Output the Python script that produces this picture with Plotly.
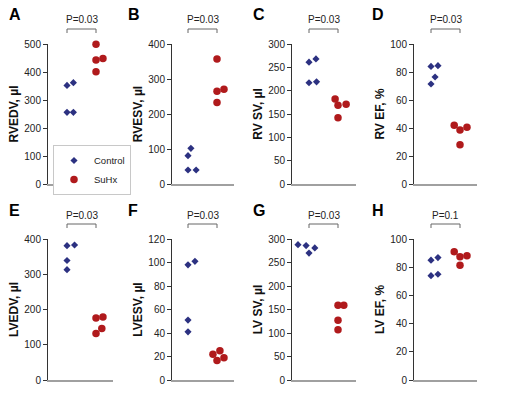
import plotly.graph_objects as go

# ---------------- data ----------------
panel_letters = ["A", "B", "C", "D", "E", "F", "G", "H"]
y_titles = ["RVEDV, µl", "RVESV, µl", "RV SV, µl", "RV EF, %",
            "LVEDV, µl", "LVESV, µl", "LV SV, µl", "LV EF, %"]
y_max = [500, 400, 300, 100, 400, 120, 300, 100]
y_dtick = [100, 100, 50, 20, 100, 20, 50, 20]
p_values = ["P=0.03", "P=0.03", "P=0.03", "P=0.03",
            "P=0.03", "P=0.03", "P=0.03", "P=0.1"]
groups = ["Control", "SuHx"]

control_values = [
    [352, 362, 256, 256],
    [102, 81, 40, 40],
    [261, 268, 217, 219],
    [84, 84.5, 76.4, 71.4],
    [381, 383, 339, 313],
    [98, 101, 51, 41],
    [288, 286, 270, 281],
    [85, 86.8, 74, 75],
]
suhx_values = [
    [499, 443, 448, 401],
    [357, 265, 271, 233],
    [182, 169, 171, 142],
    [42, 38.6, 40.5, 28],
    [176, 179, 132, 146],
    [22, 25, 16.5, 19],
    [159, 159, 127, 107],
    [91, 87.5, 88.2, 81.4],
]
# horizontal scatter offsets (beeswarm) within each group
control_offsets = [
    [0, 0.22, 0, 0.22],
    [0.1, 0, 0, 0.28],
    [0, 0.24, 0, 0.26],
    [0, 0.24, 0.14, 0],
    [0, 0.26, 0, 0],
    [0, 0.24, 0, 0],
    [-0.38, -0.1, 0, 0.2],
    [0, 0.24, 0, 0.24],
]
suhx_offsets = [
    [0, 0, 0.24, 0],
    [0, 0, 0.24, 0],
    [-0.1, 0, 0.28, 0],
    [-0.2, 0, 0.24, 0],
    [0, 0.24, 0, 0.2],
    [-0.14, 0.1, 0, 0.24],
    [0, 0.2, 0, 0],
    [-0.2, 0, 0.24, 0],
]

# ---------------- layout geometry ----------------
W, H = 512, 396
col_px = [(48, 113), (172, 234), (292, 356), (414, 477)]
col_ctrl_px = [67, 188, 309, 431]
unit_px = 29.0
row_px = [(44, 184), (239, 380)]
letter_x = [7, 126, 251, 370]
letter_y = [14, 210]
bracket_top = [29, 224]
ptext_y = [20, 215]


def px(v):
    return v / W


def py(v):
    return 1 - v / H


NAVY = "#2c3181"
RED = "#b01a1c"
FONT = "Arial, Liberation Sans, sans-serif"

fig = go.Figure()
layout = dict(
    width=W, height=H,
    margin=dict(l=0, r=0, t=0, b=0, pad=0, autoexpand=False),
    paper_bgcolor="white", plot_bgcolor="white",
    font=dict(family=FONT, color="#222"),
    showlegend=True,
    legend=dict(x=px(53), y=py(170), xanchor="left", yanchor="middle",
                bordercolor="#c8c8c8", borderwidth=1, bgcolor="white",
                font=dict(size=9.5, family=FONT, color="#222"),
                itemwidth=30, tracegroupgap=0),
)
shapes = []
annotations = []

for i in range(8):
    r, c = divmod(i, 4)
    n = i + 1
    xa = "x" if n == 1 else f"x{n}"
    ya = "y" if n == 1 else f"y{n}"
    x0p, x1p = col_px[c]
    cb = col_ctrl_px[c]
    xr = [-(cb - x0p) / unit_px, (x1p - cb) / unit_px]
    y0p, y1p = row_px[r]

    fig.add_trace(go.Scatter(
        x=[0 + o for o in control_offsets[i]], y=control_values[i],
        mode="markers", name=groups[0], legendgroup=groups[0],
        showlegend=(i == 0), cliponaxis=False,
        marker=dict(symbol="diamond", size=5.5, color=NAVY),
        xaxis=xa, yaxis=ya))
    fig.add_trace(go.Scatter(
        x=[1 + o for o in suhx_offsets[i]], y=suhx_values[i],
        mode="markers", name=groups[1], legendgroup=groups[1],
        showlegend=(i == 0), cliponaxis=False,
        marker=dict(symbol="circle", size=7.5, color=RED),
        xaxis=xa, yaxis=ya))

    layout["xaxis" if n == 1 else f"xaxis{n}"] = dict(
        domain=[px(x0p), px(x1p)], range=xr, anchor=ya,
        showgrid=False, zeroline=False, showticklabels=False, ticks="",
        showline=True, linecolor="#a0a0a0", linewidth=2, fixedrange=True,
        automargin=False)
    layout["yaxis" if n == 1 else f"yaxis{n}"] = dict(
        domain=[py(y1p), py(y0p)], range=[0, y_max[i]],
        dtick=y_dtick[i], tick0=0, anchor=xa,
        showgrid=False, zeroline=False,
        showline=True, linecolor="#333", linewidth=1,
        ticks="outside", ticklen=4, tickcolor="#333", tickwidth=1,
        tickfont=dict(size=10, family=FONT, color="#222"),
        title=dict(text=f"<b>{y_titles[i]}</b>", standoff=3,
                   font=dict(size=12, family=FONT, color="#111")),
        automargin=False, fixedrange=True)

    # significance bracket between group centers
    yt = py(bracket_top[r])
    yb = py(bracket_top[r] + 4)
    shapes.append(dict(type="path", xref=xa, yref="paper",
                       path=f"M 0,{yb} L 0,{yt} L 1,{yt} L 1,{yb}",
                       line=dict(color="#666", width=1)))
    annotations.append(dict(x=0.5, xref=xa, y=py(ptext_y[r]), yref="paper",
                            text=p_values[i], showarrow=False,
                            xanchor="center", yanchor="middle",
                            font=dict(size=10, family=FONT, color="#222")))
    annotations.append(dict(x=px(letter_x[c]), xref="paper",
                            y=py(letter_y[r]), yref="paper",
                            text=f"<b>{panel_letters[i]}</b>", showarrow=False,
                            xanchor="left", yanchor="middle",
                            font=dict(size=16, family=FONT, color="#000")))

layout["shapes"] = shapes
layout["annotations"] = annotations
fig.update_layout(**layout)
fig.write_html("out.html",
               config={"displayModeBar": False, "staticPlot": True},
               post_script="document.body.style.margin='0';document.body.style.overflow='hidden';")
